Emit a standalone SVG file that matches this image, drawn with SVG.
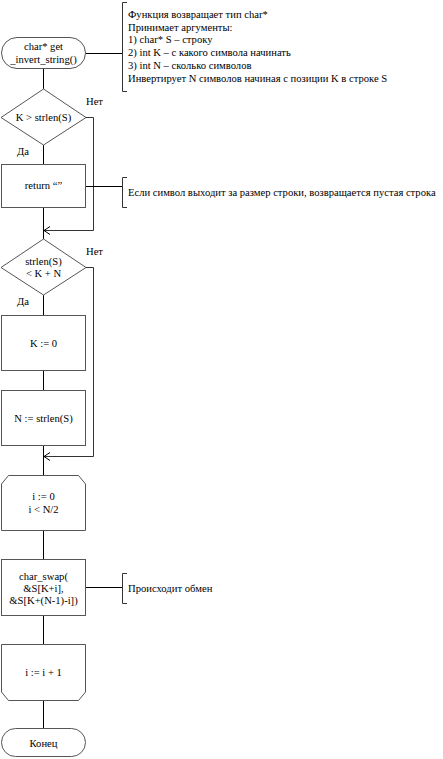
<svg xmlns="http://www.w3.org/2000/svg" width="443" height="759" viewBox="0 0 443 759" font-family="'Liberation Serif', 'Times New Roman', serif" font-size="10.6">
<defs>
<style>
.s{fill:#fff;stroke:#555;stroke-width:1}
.c{fill:none;stroke:#000;stroke-width:1}
.b{fill:none;stroke:#333;stroke-width:1}
text{fill:#000}
.m{text-anchor:middle}
</style>
<marker id="ah" markerWidth="8" markerHeight="10" refX="7" refY="5" orient="auto" markerUnits="userSpaceOnUse">
<path d="M1,1 L7,5 L1,9" fill="none" stroke="#000" stroke-width="1"/>
</marker>
</defs>
<rect width="443" height="759" fill="#fff"/>
<g id="connectors">
<path class="c" d="M43.5,69 V89"/>
<path class="c" d="M86,53.5 H122"/>
<path class="c" d="M43.5,145 V164"/>
<path class="b" d="M86,117.5 H93.5 V230.5 H44" marker-end="url(#ah)"/>
<path class="c" d="M86,186.5 H122"/>
<path class="c" d="M43.5,208 V239"/>
<path class="c" d="M43.5,295 V315"/>
<path class="b" d="M86,267.5 H93.5 V456.5 H44" marker-end="url(#ah)"/>
<path class="c" d="M43.5,371 V390"/>
<path class="c" d="M43.5,446 V475"/>
<path class="c" d="M43.5,531 V559"/>
<path class="c" d="M86,587.5 H122"/>
<path class="c" d="M43.5,616 V644"/>
<path class="c" d="M43.5,701 V728"/>
</g>
<g id="start">
<rect class="s" x="1.5" y="37.5" width="84" height="31" rx="15.5" ry="15.5"/>
<text class="m" x="43.5" y="50">char* get</text>
<text class="m" x="43.5" y="63">_invert_string()</text>
</g>
<g id="note1">
<path class="b" d="M127,2.5 H122.5 V91.5 H127"/>
<text x="128" y="18">Функция возвращает тип char*</text>
<text x="128" y="30.5">Принимает аргументы:</text>
<text x="128" y="43">1) char* S  – строку</text>
<text x="128" y="56">2) int K – с какого символа начинать</text>
<text x="128" y="68.5">3) int N – сколько символов</text>
<text x="128" y="81.5">Инвертирует N символов начиная с позиции K в строке S</text>
</g>
<g id="cond1">
<polygon class="s" points="43.5,89 86,117.5 43.5,145 1,117.5"/>
<text class="m" x="43.5" y="121">K &gt; strlen(S)</text>
<text x="86" y="105">Нет</text>
<text x="17" y="155">Да</text>
</g>
<g id="ret">
<rect class="s" x="1.5" y="164.5" width="84" height="43"/>
<text class="m" x="43.5" y="188.5">return “”</text>
</g>
<g id="note2">
<path class="b" d="M127,177.5 H122.5 V207.5 H127"/>
<text x="128" y="195.5">Если символ выходит за размер строки, возвращается пустая строка</text>
</g>
<g id="cond2">
<polygon class="s" points="43.5,239 86,267.5 43.5,295 1,267.5"/>
<text class="m" x="43.5" y="265">strlen(S)</text>
<text class="m" x="43.5" y="277">&lt; K + N</text>
<text x="86" y="255">Нет</text>
<text x="17" y="305">Да</text>
</g>
<g id="setK">
<rect class="s" x="1.5" y="315.5" width="84" height="55"/>
<text class="m" x="43.5" y="346.5">K := 0</text>
</g>
<g id="setN">
<rect class="s" x="1.5" y="390.5" width="84" height="55"/>
<text class="m" x="43.5" y="421.5">N := strlen(S)</text>
</g>
<g id="loopStart">
<polygon class="s" points="8.5,475.5 78.5,475.5 85.5,484 85.5,530.5 1.5,530.5 1.5,484"/>
<text class="m" x="43.5" y="499.5">i := 0</text>
<text class="m" x="43.5" y="512.5">i &lt; N/2</text>
</g>
<g id="swap">
<rect class="s" x="1.5" y="559.5" width="84" height="56"/>
<text class="m" x="43.5" y="579.5">char_swap(</text>
<text class="m" x="43.5" y="591.5">&amp;S[K+i],</text>
<text class="m" x="43.5" y="603.5">&amp;S[K+(N-1)-i])</text>
</g>
<g id="note3">
<path class="b" d="M127,573.5 H122.5 V603.5 H127"/>
<text x="128" y="591.5">Происходит обмен</text>
</g>
<g id="loopEnd">
<polygon class="s" points="1.5,644.5 85.5,644.5 85.5,692 78.5,700.5 8.5,700.5 1.5,692"/>
<text class="m" x="43.5" y="675.5">i := i + 1</text>
</g>
<g id="end">
<rect class="s" x="1.5" y="728.5" width="84" height="28" rx="14" ry="14"/>
<text class="m" x="43.5" y="746.5">Конец</text>
</g>
</svg>
